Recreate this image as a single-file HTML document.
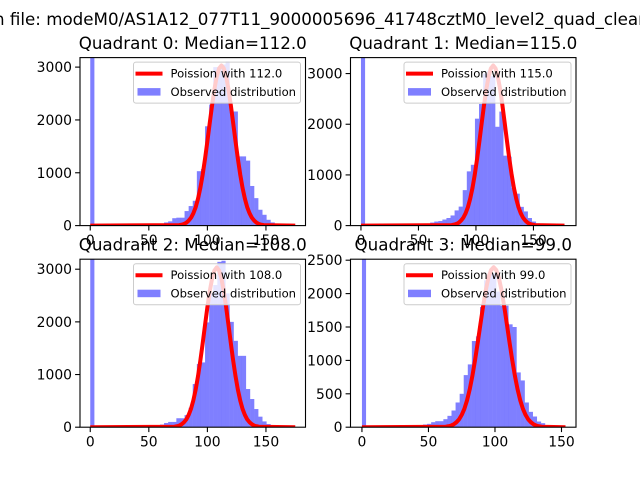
<!DOCTYPE html>
<html><head><meta charset="utf-8"><style>
html,body{margin:0;padding:0;background:#fff;}
svg{display:block;font-family:"DejaVu Sans","Liberation Sans",sans-serif;}
</style></head>
<body>
<svg id="fig" width="640" height="480" viewBox="0 0 640 480" xmlns="http://www.w3.org/2000/svg">
<rect width="640" height="480" fill="#fff"/>
<text x="-6" y="25" font-size="16.7" fill="#000">n file: modeM0/AS1A12_077T11_9000005696_41748cztM0_level2_quad_clean.evt</text>
</svg>
<script>
// ---- data ----
const medians = [112, 115, 108, 99];
const binWidths = [3.5, 3.54, 3.5, 3.06];
const q0Counts = [5000,0,0,0,0,0,0,0,0,0, 5,5,5,10,10,15,25,40,60,80, 140,150,150,275,370,470,1030,1070,1880,2290, 3000,3000,3050,3100,2160,2160,1310,1310,1230,750, 520,300,205,110,60,30,15,5,2,1];
const q1Counts = [5000,0,0,0,0,0,0,0,0,0, 5,5,10,10,20,30,40,60,80,90, 120,150,200,300,375,700,1070,1200,2110,2400, 3000,3050,2950,1950,2250,1380,1360,740,630,370, 280,150,80,45,20,10,5,2,1,1];
const q2Counts = [5000,0,0,0,0,0,0,0,0,0, 5,5,10,10,15,20,30,50,80,100, 100,170,170,230,370,820,1200,1230,1990,2540, 2700,3140,3160,2540,2000,1640,1355,1355,725,535, 345,200,110,60,30,15,5,2,1,1];
const q3Counts = [4000,0,0,0,0,0,0,0,0,0, 5,10,15,20,30,40,50,75,90,90, 120,170,250,370,500,780,940,1290,1360,1800, 2200,2320,2300,2030,1820,1820,1540,1500,820,700, 370,230,160,85,60,30,15,5,2,1];
const curveOffsets = [-36,-34,-32,-30,-28,-26,-24,-22,-20,-18,-16,-14,-12,-10,-8,-6,-4,-2,0,2,4,6,8,10,12,14,16,18,20,22,24,26,28,30,32,34,36];
const q0Curve = [9,18,30,55,94,148,233,348,509,715,970,1267,1597,1942,2279,2582,2821,2975,3030,2975,2821,2582,2279,1942,1597,1267,970,715,509,348,233,148,94,55,30,18,9];
const q1Curve = [9,19,32,57,98,155,243,363,531,746,1011,1321,1665,2026,2376,2692,2942,3103,3160,3103,2942,2692,2376,2026,1665,1321,1011,746,531,363,243,155,98,57,32,19,9];
const q2Curve = [9,18,30,55,94,148,233,348,509,715,970,1267,1597,1942,2279,2582,2821,2975,3036,2975,2821,2582,2279,1942,1597,1267,970,715,509,348,233,148,94,55,30,18,9];
const q3Curve = [7,14,24,43,74,117,184,275,402,565,766,1001,1262,1535,1801,2041,2230,2352,2395,2352,2230,2041,1801,1535,1262,1001,766,565,402,275,184,117,74,43,24,14,7];
const curveEnds = [175, 177, 175, 153];
const xTicks = [0, 50, 100, 150];
const yTicksA = [0, 1000, 2000, 3000];
const yTicksB = [0, 500, 1000, 1500, 2000, 2500];

const panels = [
 {box:[80,57.6,225.5,168], xlim:[-8.75,183.75], ymax:3180, counts:q0Counts, curve:q0Curve, yt:yTicksA},
 {box:[350.5,57.6,225.5,168], xlim:[-9.1,187], ymax:3315, counts:q1Counts, curve:q1Curve, yt:yTicksA},
 {box:[80,259.2,225.5,168], xlim:[-8.75,183.75], ymax:3190, counts:q2Counts, curve:q2Curve, yt:yTicksA},
 {box:[350.5,259.2,225.5,168], xlim:[-8.6,160.9], ymax:2515, counts:q3Counts, curve:q3Curve, yt:yTicksB}
];

const NS = "http://www.w3.org/2000/svg";
const svg = document.getElementById('fig');
function mk(tag, attrs, parent){
  const e = document.createElementNS(NS, tag);
  for (const k in attrs) e.setAttribute(k, attrs[k]);
  (parent||svg).appendChild(e);
  return e;
}

panels.forEach((p, q) => {
  const [L,T,W,H] = p.box;
  const xs = v => L + (v - p.xlim[0]) / (p.xlim[1]-p.xlim[0]) * W;
  const ys = v => T + H - v / p.ymax * H;
  const g = mk('g', {});
  
  
  const defs = mk('defs', {}, g);
  const cp = mk('clipPath', {id:'clip'+q}, defs);
  mk('rect', {x:L, y:T, width:W, height:H}, cp);
  const plot = mk('g', {'clip-path':'url(#clip'+q+')'}, g);
  // bars
  const bw = binWidths[q];
  p.counts.forEach((c, i) => {
    if (c <= 0) return;
    const x0 = xs(i*bw), x1 = xs((i+1)*bw);
    const r = mk('rect', {x:x0, y:ys(c), width:x1-x0+0.05, height:ys(0)-ys(c), fill:'#0000ff', 'fill-opacity':0.5}, plot);
    
    
  });
  // poisson curve
  let pts = [[0,0]];
  curveOffsets.forEach((o, i) => pts.push([medians[q]+o, p.curve[i]]));
  pts.push([curveEnds[q], 0]);
  const line = mk('polyline', {points: pts.map(a => xs(a[0]).toFixed(2)+','+ys(a[1]).toFixed(2)).join(' '), fill:'none', stroke:'#ff0000', 'stroke-width':4, 'stroke-linejoin':'round'}, plot);
  
  
  // frame
  const fr = mk('rect', {x:L, y:T, width:W, height:H, fill:'none', stroke:'#000', 'stroke-width':1.1}, g);
  
  
  // x ticks
  xTicks.forEach(t => {
    const x = xs(t);
    mk('line', {x1:x, x2:x, y1:T+H, y2:T+H+4.9, stroke:'#000', 'stroke-width':1.1}, g);
    const tx = mk('text', {x:x, y:T+H+19.5, 'font-size':13.9, 'text-anchor':'middle'}, g);
    tx.textContent = t;
    
    
  });
  // y ticks
  p.yt.forEach(t => {
    const y = ys(t);
    mk('line', {x1:L-4.9, x2:L, y1:y, y2:y, stroke:'#000', 'stroke-width':1.1}, g);
    const tx = mk('text', {x:L-8, y:y+5, 'font-size':13.9, 'text-anchor':'end'}, g);
    tx.textContent = t;
    
    
  });
  // title
  const ti = mk('text', {x:L+W/2, y:T-8.5, 'font-size':16.7, 'text-anchor':'middle'}, g);
  ti.textContent = 'Quadrant ' + q + ': Median=' + medians[q].toFixed(1);
  
  
  // legend
  const lg = mk('g', {}, g);
  
  
  const lw = 167, lx = L+W-5-lw, ly = T+4.5;
  mk('rect', {x:lx, y:ly, width:lw, height:41, rx:2.5, fill:'#fff', 'fill-opacity':0.8, stroke:'#cccccc', 'stroke-width':1}, lg);
  mk('line', {x1:lx+2, x2:lx+29, y1:ly+11.5, y2:ly+11.5, stroke:'#ff0000', 'stroke-width':4}, lg);
  const t1 = mk('text', {x:lx+37, y:ly+15.5, 'font-size':11.6}, lg);
  t1.textContent = 'Poission with ' + medians[q].toFixed(1);
  
  
  mk('rect', {x:lx+4, y:ly+26, width:23, height:7.5, fill:'#0000ff', 'fill-opacity':0.5}, lg);
  const t2 = mk('text', {x:lx+37, y:ly+34, 'font-size':11.6}, lg);
  t2.textContent = 'Observed distribution';
  
  
});
</script>
</body></html>
